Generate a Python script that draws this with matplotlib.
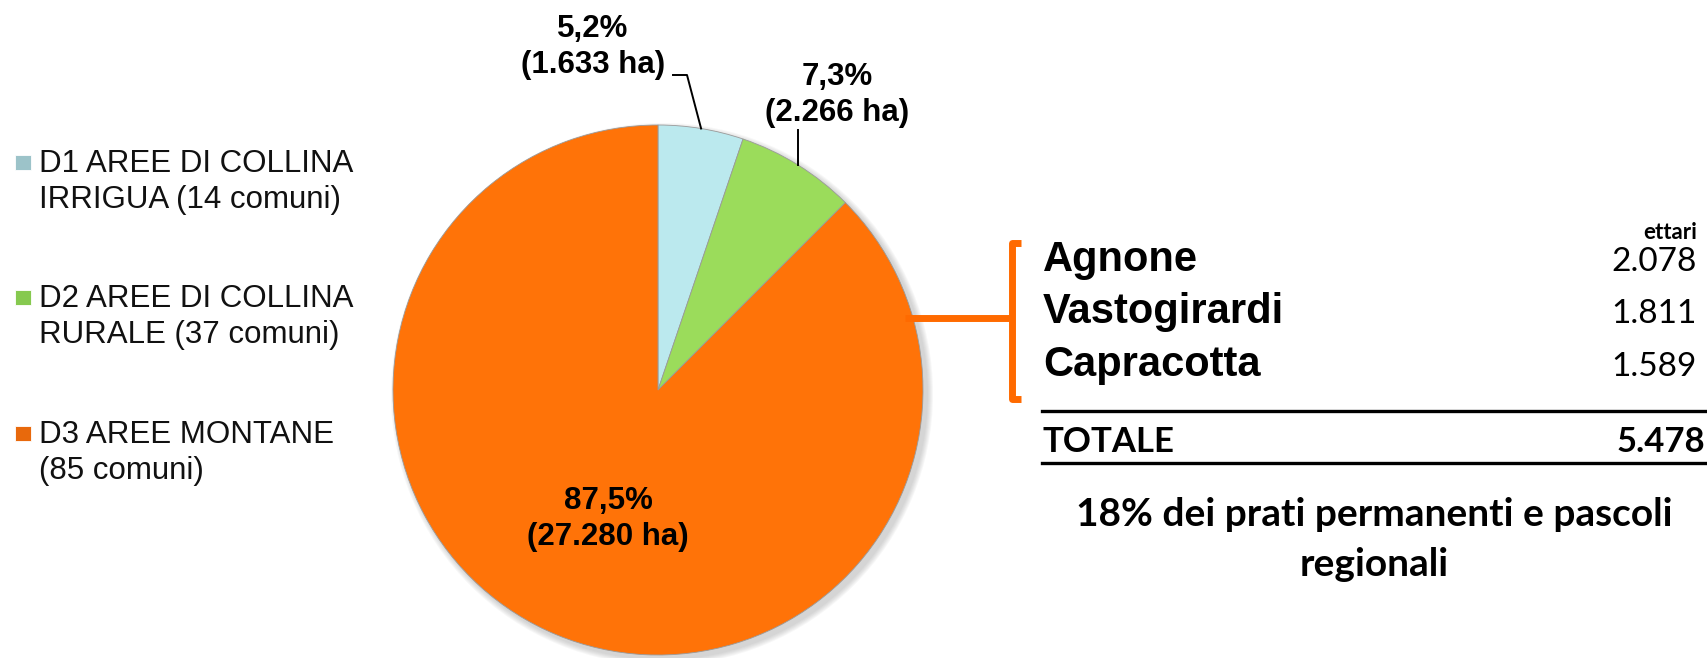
import numpy as np
import matplotlib.pyplot as plt
from matplotlib.patches import Circle, Rectangle

W, H = 1708, 658

# pie data
zone_labels = ["D1 AREE DI COLLINA\nIRRIGUA (14 comuni)",
               "D2 AREE DI COLLINA\nRURALE (37 comuni)",
               "D3 AREE MONTANE\n(85 comuni)"]
zone_pct = [5.2, 7.3, 87.5]
zone_ha = ["1.633", "2.266", "27.280"]
zone_colors = ["#bbe9ee", "#9bdc5b", "#ff7308"]
marker_colors = ["#9cc3c9", "#86c94f", "#e8690c"]

# table data
comuni = ["Agnone", "Vastogirardi", "Capracotta"]
ettari = ["2.078", "1.811", "1.589"]
totale = "5.478"
note = "18% dei prati permanenti e pascoli\nregionali"


def Y(py):
    # pixel row from top -> data y
    return H - py


fig = plt.figure(figsize=(W / 100, H / 100), dpi=100)
ax = fig.add_axes([0, 0, 1, 1])

cx, cy, r = 658, Y(390), 265

# soft shadow
for k in range(6):
    ax.add_patch(Circle((cx + 4, cy - 4), r + 1 + k, color="#7f7f7f",
                        alpha=0.06, lw=0, zorder=0))

wedges, _ = ax.pie(zone_pct, colors=zone_colors, startangle=90,
                   counterclock=False, center=(cx, cy), radius=r,
                   wedgeprops=dict(edgecolor="#9a9a9a", linewidth=0.6))
for w in wedges:
    w.set_zorder(1)

ax.set_xlim(0, W)
ax.set_ylim(0, H)
ax.set_aspect("equal")
ax.axis("off")


def edge_point(w):
    a = np.deg2rad((w.theta1 + w.theta2) / 2)
    return cx + r * np.cos(a), cy + r * np.sin(a)


lab_font = dict(family="Liberation Sans", fontweight="bold", fontsize=22.5,
                ha="center", va="center", linespacing=1.28, zorder=5)
labels = [f"{p:.1f}%".replace(".", ",") + f"\n({h} ha)" for p, h in zip(zone_pct, zone_ha)]

# D1 label with bent leader
ax.text(593, Y(47), labels[0], **lab_font)
ex, ey = edge_point(wedges[0])
ax.plot([ex, 687, 673], [ey, Y(75), Y(75)], color="black", lw=1.4, zorder=4)

# D2 label with vertical leader
ax.text(837, Y(95), labels[1], **lab_font)
ex, ey = edge_point(wedges[1])
ax.plot([ex, ex], [ey, Y(130)], color="black", lw=1.4, zorder=4)

# D3 label inside
ax.text(608, Y(519), labels[2], **lab_font)

# legend
for i, (lab, col) in enumerate(zip(zone_labels, marker_colors)):
    base = 172 + 135.5 * i
    ax.add_patch(Rectangle((15, Y(base - 2)), 16, 15, facecolor=col,
                           edgecolor="#ffffff", lw=0.6))
    for j, line in enumerate(lab.split("\n")):
        ax.text(39, Y(base + 36 * j), line, family="Liberation Sans",
                fontsize=22.5, ha="left", va="baseline", color="#111111")

# orange bracket
bcol = "#ff6a00"
ax.plot([905, 1012], [Y(318), Y(318)], color=bcol, lw=5, solid_capstyle="butt")
ax.plot([1021, 1012, 1012, 1021], [Y(243), Y(243), Y(399), Y(399)],
        color=bcol, lw=5, solid_joinstyle="round", solid_capstyle="butt")

# table
ax.text(1697, Y(239), "ettari", family="Lato", fontweight="bold",
        fontsize=16, ha="right", va="baseline")
for i, (name, val) in enumerate(zip(comuni, ettari)):
    base = 271 + 52.5 * i
    ax.text(1043, Y(base), name, family="Liberation Sans", fontweight="bold",
            fontsize=30, ha="left", va="baseline")
    ax.text(1697, Y(base), val, family="Lato", fontsize=24,
            ha="right", va="baseline")

ax.plot([1042, W], [Y(411), Y(411)], color="black", lw=2.4)
ax.plot([1042, W], [Y(463), Y(463)], color="black", lw=2.4)
ax.text(1043, Y(452), "TOTALE", family="Lato", fontweight="bold",
        fontsize=25, ha="left", va="baseline")
ax.text(1705, Y(452), totale, family="Lato", fontweight="bold",
        fontsize=25, ha="right", va="baseline")

for j, line in enumerate(note.split("\n")):
    ax.text(1374, Y(526 + 50 * j), line, family="Lato", fontweight="bold",
            fontsize=28, ha="center", va="baseline")

fig.savefig("out.png", dpi=100)
